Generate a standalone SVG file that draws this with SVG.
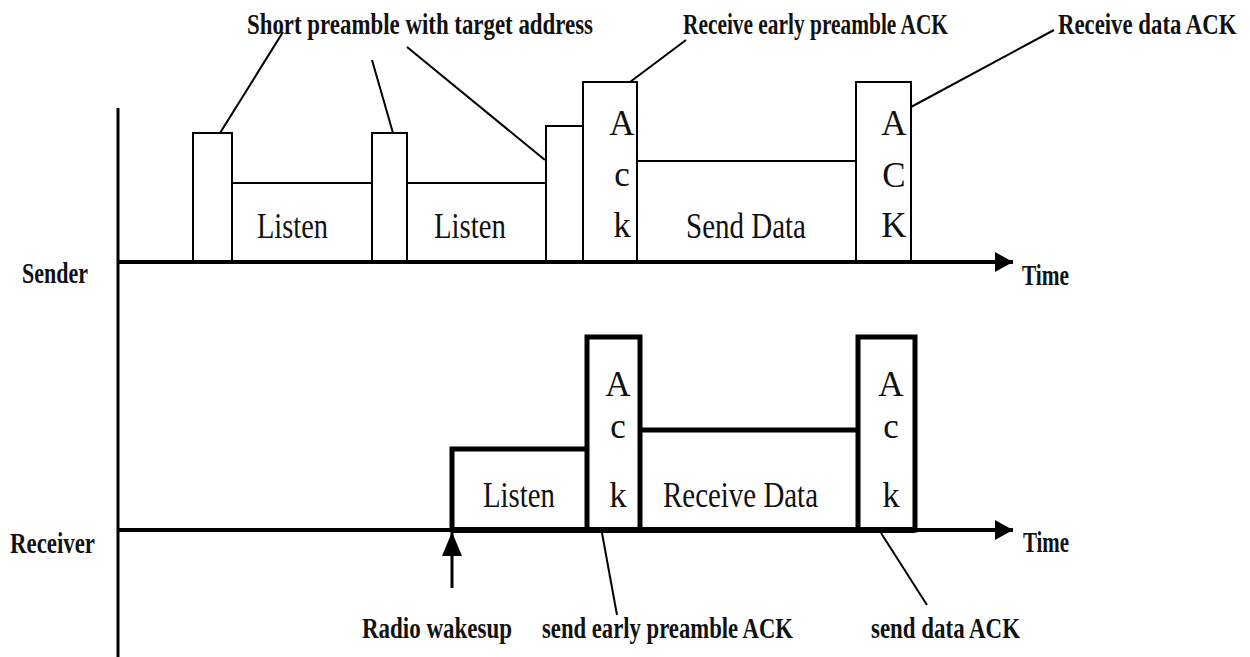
<svg xmlns="http://www.w3.org/2000/svg" width="1250" height="657" viewBox="0 0 1250 657">
<defs>
<marker id="ah" markerUnits="userSpaceOnUse" markerWidth="20" markerHeight="22" refX="18" refY="11" orient="auto">
<polygon points="0,1 18,11 0,21" fill="#000"/>
</marker>
<marker id="up" markerUnits="userSpaceOnUse" markerWidth="26" markerHeight="22" refX="24" refY="10" orient="auto">
<polygon points="0,0 24,10 0,20" fill="#000"/>
</marker>
<style>
.thin{fill:none;stroke:#000;stroke-width:2}
.thick{fill:none;stroke:#000;stroke-width:5}
.axis{fill:none;stroke:#000;stroke-width:4}
.lead{fill:none;stroke:#000;stroke-width:2}
.body{font-family:"Liberation Serif","Times New Roman",serif;font-size:36px;fill:#111}
.ack{font-family:"Liberation Serif","Times New Roman",serif;font-size:35px;fill:#111;text-anchor:middle}
.lbl{font-family:"Liberation Serif","Times New Roman",serif;font-size:30px;font-weight:bold;fill:#111}
</style>
</defs>
<rect width="1250" height="657" fill="#fff"/>

<g id="axes">
<line x1="118" y1="108" x2="118" y2="657" stroke="#000" stroke-width="3"/>
<line x1="118" y1="262" x2="1013" y2="262" class="axis" marker-end="url(#ah)"/>
<line x1="118" y1="530" x2="1013" y2="530" class="axis" marker-end="url(#ah)"/>
</g>

<g id="sender">
<g id="s-preamble1"><rect x="193" y="133" width="39" height="129" class="thin"/></g>
<g id="s-listen1"><polyline points="232,262 232,183 372,183 372,262" class="thin"/><text class="body" x="257" y="238" textLength="71" lengthAdjust="spacingAndGlyphs">Listen</text></g>
<g id="s-preamble2"><rect x="372" y="133" width="35" height="129" class="thin"/></g>
<g id="s-listen2"><polyline points="407,262 407,183 546,183 546,262" class="thin"/><text class="body" x="434" y="238" textLength="72" lengthAdjust="spacingAndGlyphs">Listen</text></g>
<g id="s-preamble3"><rect x="546" y="126" width="37" height="136" class="thin"/></g>
<g id="s-ack1"><rect x="583" y="82" width="54" height="180" class="thin"/>
<text class="ack" x="622" y="135">A</text><text class="ack" x="622" y="186">c</text><text class="ack" x="622" y="237">k</text></g>
<g id="s-data"><polyline points="637,262 637,161 856,161 856,262" class="thin"/><text class="body" x="686" y="238" textLength="120" lengthAdjust="spacingAndGlyphs">Send Data</text></g>
<g id="s-ack2"><rect x="856" y="82" width="55" height="180" class="thin"/>
<text class="ack" x="894" y="135">A</text><text class="ack" x="894" y="187">C</text><text class="ack" x="894" y="237">K</text></g>
</g>

<g id="receiver">
<g id="r-listen"><polyline points="452,530 452,449 587,449" class="thick"/><text class="body" x="483" y="507" textLength="72" lengthAdjust="spacingAndGlyphs">Listen</text></g>
<g id="r-ack1"><rect x="587" y="337" width="53" height="193" class="thick"/>
<text class="ack" x="618" y="396">A</text><text class="ack" x="618" y="438">c</text><text class="ack" x="618" y="507">k</text></g>
<g id="r-data"><line x1="640" y1="430" x2="858" y2="430" class="thick"/><text class="body" x="663" y="507" textLength="155" lengthAdjust="spacingAndGlyphs">Receive Data</text></g>
<g id="r-ack2"><rect x="858" y="337" width="57" height="193" class="thick"/>
<text class="ack" x="891" y="396">A</text><text class="ack" x="891" y="438">c</text><text class="ack" x="891" y="507">k</text></g>
<line x1="452" y1="530" x2="915" y2="530" stroke="#000" stroke-width="6"/>
</g>

<g id="labels">
<text class="lbl" x="247" y="34" textLength="346" lengthAdjust="spacingAndGlyphs">Short preamble with target address</text>
<text class="lbl" x="683" y="34" textLength="265" lengthAdjust="spacingAndGlyphs">Receive early preamble ACK</text>
<text class="lbl" transform="translate(1058,34) scale(0.76,1)" x="0" y="0">Receive data ACK</text>
<text class="lbl" x="22" y="283" textLength="66" lengthAdjust="spacingAndGlyphs">Sender</text>
<text class="lbl" x="10" y="553" textLength="85" lengthAdjust="spacingAndGlyphs">Receiver</text>
<text class="lbl" x="1022" y="285" textLength="47" lengthAdjust="spacingAndGlyphs">Time</text>
<text class="lbl" x="1023" y="552" textLength="46" lengthAdjust="spacingAndGlyphs">Time</text>
<text class="lbl" x="362" y="638" textLength="150" lengthAdjust="spacingAndGlyphs">Radio wakesup</text>
<text class="lbl" x="542" y="638" textLength="251" lengthAdjust="spacingAndGlyphs">send early preamble ACK</text>
<text class="lbl" x="871" y="638" textLength="149" lengthAdjust="spacingAndGlyphs">send data ACK</text>
</g>

<g id="connectors">
<line x1="220" y1="133" x2="283" y2="32" class="lead"/>
<line x1="393" y1="133" x2="372" y2="60" class="lead"/>
<line x1="545" y1="160" x2="407" y2="47" class="lead"/>
<line x1="630" y1="82" x2="686" y2="40" class="lead"/>
<line x1="911" y1="107" x2="1054" y2="30" class="lead"/>
<line x1="602" y1="533" x2="617" y2="615" class="lead"/>
<line x1="881" y1="533" x2="927" y2="605" class="lead"/>
<line x1="452" y1="588" x2="452" y2="532" stroke="#000" stroke-width="3" marker-end="url(#up)"/>
</g>
</svg>
